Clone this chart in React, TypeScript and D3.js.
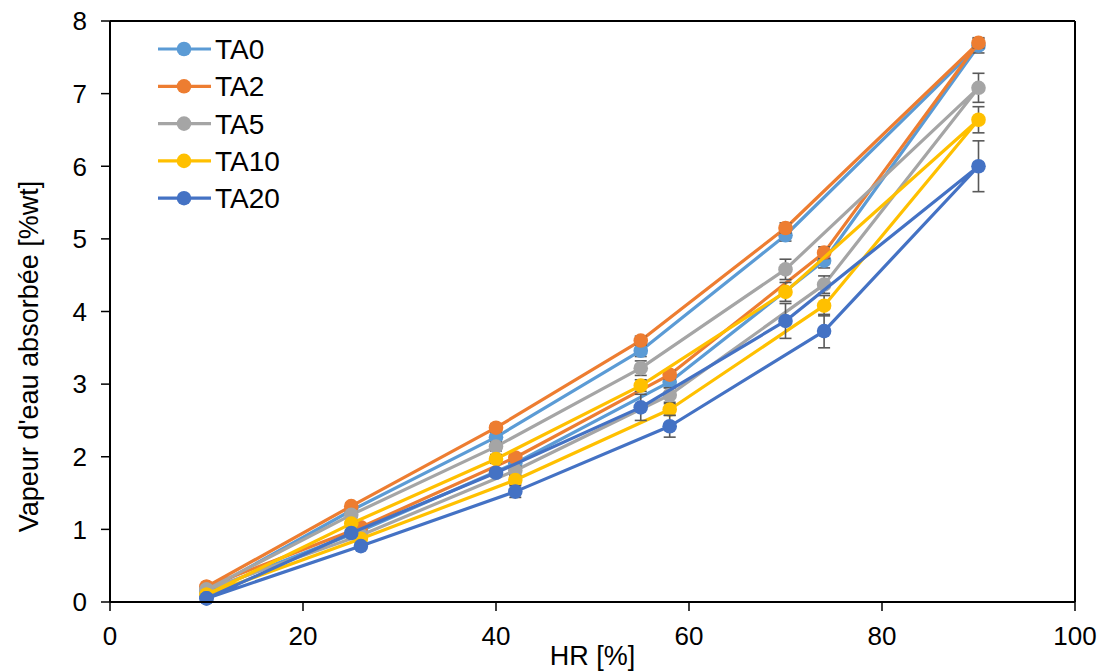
import React from "react";
import * as d3 from "d3";

const HR = [10, 25, 40, 55, 70, 90, 74, 58, 42, 26, 10];

const seriesNames = ["TA0", "TA2", "TA5", "TA10", "TA20"];
const seriesColors = ["#5B9BD5", "#ED7D31", "#A5A5A5", "#FFC000", "#4472C4"];

const TA0 = [0.15, 1.26, 2.27, 3.46, 5.05, 7.66, 4.70, 3.03, 1.91, 0.98, 0.15];
const TA2 = [0.21, 1.32, 2.40, 3.60, 5.15, 7.70, 4.81, 3.13, 1.99, 1.03, 0.21];
const TA5 = [0.17, 1.20, 2.14, 3.22, 4.58, 7.08, 4.37, 2.85, 1.81, 0.92, 0.17];
const TA10 = [0.10, 1.08, 1.97, 2.98, 4.27, 6.64, 4.08, 2.65, 1.68, 0.87, 0.10];
const TA20 = [0.05, 0.95, 1.78, 2.68, 3.87, 6.00, 3.73, 2.42, 1.52, 0.77, 0.05];

const ERR0 = [0.02, 0.04, 0.06, 0.08, 0.08, 0.10, 0.10, 0.08, 0.06, 0.04, 0.02];
const ERR2 = [0.02, 0.04, 0.05, 0.06, 0.07, 0.07, 0.08, 0.06, 0.05, 0.03, 0.02];
const ERR5 = [0.02, 0.04, 0.06, 0.10, 0.14, 0.20, 0.12, 0.10, 0.06, 0.04, 0.02];
const ERR10 = [0.02, 0.04, 0.06, 0.08, 0.13, 0.18, 0.14, 0.08, 0.06, 0.04, 0.02];
const ERR20 = [0.02, 0.04, 0.05, 0.18, 0.24, 0.35, 0.23, 0.15, 0.08, 0.04, 0.02];

const seriesValues = [TA0, TA2, TA5, TA10, TA20];
const seriesErrors = [ERR0, ERR2, ERR5, ERR10, ERR20];

const xTicks = [0, 20, 40, 60, 80, 100];
const yTicks = [0, 1, 2, 3, 4, 5, 6, 7, 8];

const xTitle = "HR [%]";
const yTitle = "Vapeur d'eau absorbée [%wt]";

const FONT = "'Liberation Sans', Arial, sans-serif";

export default function App() {
  const W = 1105;
  const H = 671;
  const left = 110;
  const right = 1075;
  const top = 21;
  const bottom = 602;

  const x = d3.scaleLinear().domain([0, 100]).range([left, right]);
  const y = d3.scaleLinear().domain([0, 8]).range([bottom, top]);

  const line = d3
    .line<[number, number]>()
    .x((d) => x(d[0]))
    .y((d) => y(d[1]));

  const legendY0 = 49;
  const legendDy = 37.3;

  return (
    <svg
      width={W}
      height={H}
      style={{ position: "absolute", left: 0, top: 0, background: "#fff" }}
      fontFamily={FONT}
    >
      <rect x={0} y={0} width={W} height={H} fill="#fff" />
      {/* frame */}
      <line x1={left} x2={right} y1={top} y2={top} stroke="#000" strokeWidth={2} />
      <line x1={right} x2={right} y1={top} y2={bottom} stroke="#000" strokeWidth={2} />

      {/* series */}
      {seriesValues.map((vals, si) => {
        const pts: [number, number][] = HR.map((h, i) => [h, vals[i]]);
        const errs = seriesErrors[si];
        const color = seriesColors[si];
        return (
          <g key={seriesNames[si]}>
            <path d={line(pts) || ""} fill="none" stroke={color} strokeWidth={3.2} strokeLinejoin="round" />
            {pts.map((p, i) => (
              <g key={"e" + i} stroke="#595959" strokeWidth={1.6}>
                <line x1={x(p[0])} x2={x(p[0])} y1={y(p[1] - errs[i])} y2={y(p[1] + errs[i])} />
                <line x1={x(p[0]) - 6} x2={x(p[0]) + 6} y1={y(p[1] - errs[i])} y2={y(p[1] - errs[i])} />
                <line x1={x(p[0]) - 6} x2={x(p[0]) + 6} y1={y(p[1] + errs[i])} y2={y(p[1] + errs[i])} />
              </g>
            ))}
            {pts.map((p, i) => (
              <circle key={"m" + i} cx={x(p[0])} cy={y(p[1])} r={7.3} fill={color} />
            ))}
          </g>
        );
      })}

      {/* axes */}
      <line x1={left} x2={left} y1={top} y2={bottom} stroke="#000" strokeWidth={2} />
      <line x1={left} x2={right} y1={bottom} y2={bottom} stroke="#000" strokeWidth={2} />
      {yTicks.map((t) => (
        <g key={"y" + t}>
          <line x1={left - 9} x2={left} y1={y(t)} y2={y(t)} stroke="#000" strokeWidth={1.5} />
          <text x={87} y={y(t)} dy="0.36em" textAnchor="end" fontSize={26} fill="#000">
            {t}
          </text>
        </g>
      ))}
      {xTicks.map((t) => (
        <g key={"x" + t}>
          <line x1={x(t)} x2={x(t)} y1={bottom} y2={bottom + 9} stroke="#000" strokeWidth={1.5} />
          <text x={x(t)} y={645} textAnchor="middle" fontSize={26} fill="#000">
            {t}
          </text>
        </g>
      ))}

      <text x={(left + right) / 2} y={665} textAnchor="middle" fontSize={27} fill="#000">
        {xTitle}
      </text>
      <text
        transform={`translate(38, ${(top + bottom) / 2 + 45}) rotate(-90)`}
        textAnchor="middle"
        fontSize={27}
        fill="#000"
      >
        {yTitle}
      </text>

      {/* legend */}
      {seriesNames.map((n, i) => {
        const ly = legendY0 + i * legendDy;
        return (
          <g key={"l" + n}>
            <line x1={158} x2={211} y1={ly} y2={ly} stroke={seriesColors[i]} strokeWidth={3.2} />
            <circle cx={184} cy={ly} r={7.3} fill={seriesColors[i]} />
            <text x={215} y={ly} dy="0.36em" fontSize={28} fill="#000">
              {n}
            </text>
          </g>
        );
      })}
    </svg>
  );
}
